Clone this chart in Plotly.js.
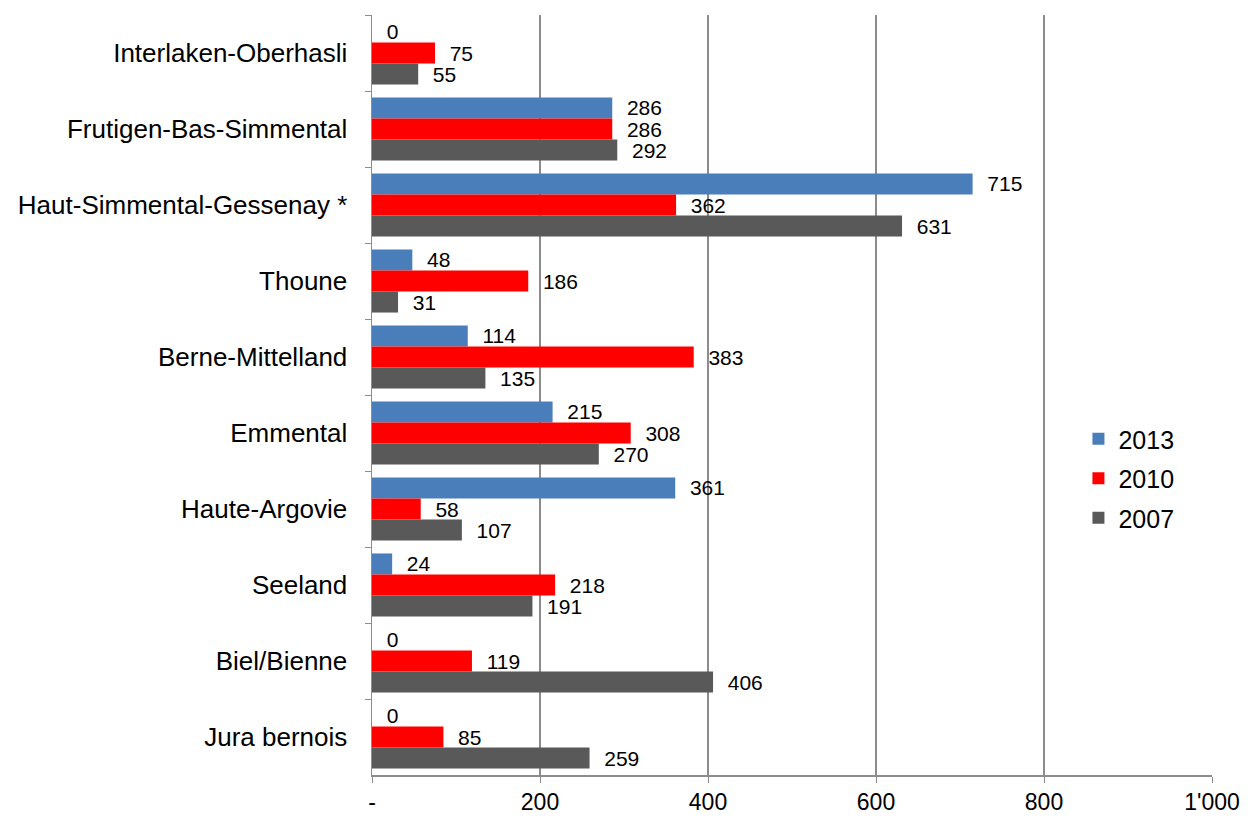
<!DOCTYPE html>
<html><head><meta charset="utf-8">
<script src="https://cdn.plot.ly/plotly-3.0.1.min.js"></script>
<style>body{margin:0;background:#fff}#chart{width:1259px;height:825px}</style>
</head><body><div id="chart"></div>
<script>
const categories = ["Interlaken-Oberhasli","Frutigen-Bas-Simmental","Haut-Simmental-Gessenay *","Thoune","Berne-Mittelland","Emmental","Haute-Argovie","Seeland","Biel/Bienne","Jura bernois"];
const v2013 = [0,286,715,48,114,215,361,24,0,0];
const v2010 = [75,286,362,186,383,308,58,218,119,85];
const v2007 = [55,292,631,31,135,270,107,191,406,259];
const tickVals = [0,200,400,600,800,1000];
const tickLabels = ["-","200","400","600","800","1'000"];
const seriesNames = ["2013","2010","2007"];
const colors = ["#4A7EBB","#FF0000","#595959"];
const F = "Liberation Sans, Arial, sans-serif";
const pad = "\u00a0\u00a0";
const mk = (vals, i) => ({
  type:"bar", orientation:"h", name:seriesNames[i], legendgroup:"g"+i, y:categories, x:vals,
  marker:{color:colors[i], line:{width:0}},
  text: vals.map(v => pad + v), textposition:"outside", constraintext:"none",
  cliponaxis:false, textfont:{family:F, size:21, color:"#000"}, hoverinfo:"x"
});
const data = [mk(v2013,0), mk(v2010,1), mk(v2007,2)];
const layout = {
  width:1259, height:825, barmode:"group", bargap:0.17, bargroupgap:0,
  margin:{l:372, r:47, t:15, b:50},
  paper_bgcolor:"#fff", plot_bgcolor:"#fff",
  font:{family:F, color:"#000"},
  xaxis:{range:[0,1000], tickvals:tickVals, ticktext:tickLabels, showgrid:true,
    gridcolor:"#8c8c8c", gridwidth:1.5, zeroline:false, showline:true, linecolor:"#8c8c8c", linewidth:1.5,
    ticks:"outside", ticklen:6, tickcolor:"#8c8c8c", tickfont:{size:23, family:F}, fixedrange:true},
  yaxis:{autorange:"reversed", type:"category", showline:true, linecolor:"#8c8c8c", linewidth:1.5,
    ticks:"outside", ticklen:6, tickcolor:"#8c8c8c", tickson:"boundaries", ticklabelstandoff:18,
    tickfont:{size:26, family:F}, showgrid:false, fixedrange:true},
  legend:{x:0.841, y:0.39, xanchor:"left", yanchor:"middle", bgcolor:"rgba(0,0,0,0)",
    font:{size:25, family:F}, traceorder:"grouped", tracegroupgap:4, itemwidth:30},
  showlegend:true
};
Plotly.newPlot("chart", data, layout, {displayModeBar:false, staticPlot:true});
</script></body></html>
